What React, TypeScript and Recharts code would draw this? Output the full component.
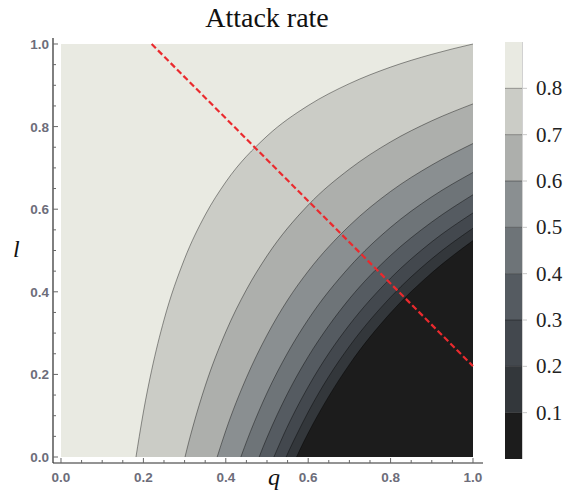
import React from 'react'
import { ComposedChart, Area, Line, XAxis, YAxis, BarChart, Bar, ReferenceArea } from 'recharts'

// contour levels, outermost (largest) first
const levels = [0.8, 0.7, 0.6, 0.5, 0.4, 0.3, 0.2, 0.1]

// fill under each contour = colour of the band just below that level
const bandColors = ['#cbccc6', '#adafac', '#8a8f91', '#6e7478', '#555b61', '#43484e', '#33373b', '#1c1c1c']
const topColor = '#e9eae2'

// contour lines as [q, l] pairs
const c80 = [[0.182, 0], [0.19, 0.05], [0.2, 0.109], [0.22, 0.21], [0.25, 0.332], [0.3, 0.48], [0.35, 0.586], [0.4, 0.666], [0.5, 0.777], [0.6, 0.851], [0.7, 0.904], [0.8, 0.944], [0.9, 0.975], [1, 1.0]]
const c70 = [[0.301, 0], [0.31, 0.036], [0.32, 0.073], [0.35, 0.172], [0.4, 0.303], [0.45, 0.405], [0.5, 0.487], [0.6, 0.61], [0.7, 0.697], [0.8, 0.763], [0.9, 0.814], [1, 0.855]]
const c60 = [[0.379, 0], [0.39, 0.034], [0.4, 0.064], [0.45, 0.192], [0.5, 0.295], [0.55, 0.38], [0.6, 0.45], [0.7, 0.56], [0.8, 0.643], [0.9, 0.707], [1, 0.759]]
const c50 = [[0.4365, 0], [0.445, 0.023], [0.46, 0.062], [0.5, 0.155], [0.55, 0.252], [0.6, 0.333], [0.7, 0.46], [0.8, 0.556], [0.9, 0.63], [1, 0.689]]
const c40 = [[0.481, 0], [0.49, 0.023], [0.5, 0.047], [0.55, 0.154], [0.6, 0.243], [0.65, 0.318], [0.7, 0.383], [0.8, 0.488], [0.9, 0.569], [1, 0.635]]
const c30 = [[0.5167, 0], [0.525, 0.019], [0.54, 0.053], [0.6, 0.17], [0.65, 0.251], [0.7, 0.32], [0.8, 0.433], [0.9, 0.521], [1, 0.591]]
const c20 = [[0.5465, 0], [0.555, 0.019], [0.57, 0.05], [0.6, 0.109], [0.65, 0.195], [0.7, 0.268], [0.8, 0.387], [0.9, 0.48], [1, 0.554]]
const c10 = [[0.5717, 0], [0.58, 0.018], [0.6, 0.058], [0.65, 0.147], [0.7, 0.224], [0.8, 0.349], [0.9, 0.446], [1, 0.524]]

const contours = [c80, c70, c60, c50, c40, c30, c20, c10]

// dashed reference line
const redLine = [{ q: 0.22, l: 1 }, { q: 1, l: 0.22 }]

// plot square
const square = [{ q: 0, l: 1 }, { q: 1, l: 1 }]

const qTicks = [0, 0.05, 0.1, 0.15, 0.2, 0.25, 0.3, 0.35, 0.4, 0.45, 0.5, 0.55, 0.6, 0.65, 0.7, 0.75, 0.8, 0.85, 0.9, 0.95, 1]
const lTicks = [0, 0.05, 0.1, 0.15, 0.2, 0.25, 0.3, 0.35, 0.4, 0.45, 0.5, 0.55, 0.6, 0.65, 0.7, 0.75, 0.8, 0.85, 0.9, 0.95, 1]

// colour bar
const barEdges = [0, 0.1, 0.2, 0.3, 0.4, 0.5, 0.6, 0.7, 0.8, 0.9]
const barColors = ['#1c1c1c', '#33373b', '#43484e', '#555b61', '#6e7478', '#8a8f91', '#adafac', '#cbccc6', '#e9eae2']
const barTicks = [0.1, 0.2, 0.3, 0.4, 0.5, 0.6, 0.7, 0.8]

const toPoints = (pts: number[][]) => pts.map(([q, l]) => ({ q, l }))

const barRow: Record<string, number | string> = { name: 'scale' }
barEdges.slice(1).forEach((e, i) => {
  barRow['b' + i] = e - barEdges[i]
})

const serif = '"Liberation Serif", "Times New Roman", serif'
const tickFont = {
  fontFamily: '"Liberation Sans", Arial, sans-serif',
  fontWeight: 700,
  fontSize: 13.5,
  fill: '#6d6d7a',
}

const isMajor = (v: number) => Math.abs(v * 5 - Math.round(v * 5)) < 1e-6

type TickProps = { x?: number; y?: number; payload?: { value: number } }

function QTick({ x = 0, y = 0, payload }: TickProps) {
  const v = payload?.value ?? 0
  const major = isMajor(v)
  return (
    <g>
      <line x1={x} x2={x} y1={y} y2={y - (major ? 5 : 3)} stroke="#666" />
      {major && (
        <text x={x} y={y + 19} textAnchor="middle" {...tickFont}>
          {v.toFixed(1)}
        </text>
      )}
    </g>
  )
}

function LTick({ x = 0, y = 0, payload }: TickProps) {
  const v = payload?.value ?? 0
  const major = isMajor(v)
  return (
    <g>
      <line x1={x} x2={x + (major ? 5 : 3)} y1={y} y2={y} stroke="#666" />
      {major && (
        <text x={x - 4} y={y + 5} textAnchor="end" {...tickFont}>
          {v.toFixed(1)}
        </text>
      )}
    </g>
  )
}

function ScaleTick({ x = 0, y = 0, payload }: TickProps) {
  const v = payload?.value ?? 0
  return (
    <g>
      <line x1={x - 17} x2={x} y1={y} y2={y} stroke="#000" strokeOpacity={0.35} />
      <line x1={x} x2={x + 5} y1={y} y2={y} stroke="#c8c8c8" />
      <text x={x + 14} y={y + 7} fontFamily={serif} fontSize={21} fill="#222">
        {v.toFixed(1)}
      </text>
    </g>
  )
}

export default function App() {
  return (
    <div style={{ position: 'absolute', left: 0, top: 0, width: 570, height: 491, background: '#fff' }}>
      <div
        style={{
          position: 'absolute', left: 0, top: 4, width: 534, textAlign: 'center',
          fontFamily: serif, fontSize: 28, lineHeight: '28px', color: '#111',
        }}
      >
        Attack rate
      </div>
      <div style={{ position: 'absolute', left: 13, top: 237, fontFamily: serif, fontStyle: 'italic', fontSize: 24, lineHeight: '24px', color: '#111' }}>
        l
      </div>
      <div style={{ position: 'absolute', left: 268, top: 465, fontFamily: serif, fontStyle: 'italic', fontSize: 24, lineHeight: '24px', color: '#111' }}>
        q
      </div>

      <div style={{ position: 'absolute', left: 0, top: 0 }}>
        <ComposedChart width={570} height={491} margin={{ top: 38, right: 87, bottom: 27, left: 52 }}>
          <XAxis
            type="number"
            dataKey="q"
            domain={[-0.0194, 1.0243]}
            allowDataOverflow
            ticks={qTicks}
            interval={0}
            height={1}
            tickSize={0}
            tickMargin={0}
            tickLine={false}
            axisLine={{ stroke: '#2b2b2b', strokeWidth: 1.2 }}
            tick={<QTick />}
          />
          <YAxis
            type="number"
            dataKey="l"
            domain={[-0.0145, 1.0145]}
            allowDataOverflow
            ticks={lTicks}
            interval={0}
            width={1}
            tickSize={0}
            tickMargin={0}
            tickLine={false}
            axisLine={{ stroke: '#2b2b2b', strokeWidth: 1.2 }}
            tick={<LTick />}
          />
          <Area
            data={square}
            dataKey="l"
            type="linear"
            baseValue={0}
            fill={topColor}
            fillOpacity={1}
            stroke="none"
            dot={false}
            activeDot={false}
            isAnimationActive={false}
          />
          {contours.map((pts, i) => (
            <Area
              key={levels[i]}
              data={toPoints(pts)}
              dataKey="l"
              type="monotone"
              baseValue={0}
              fill={bandColors[i]}
              fillOpacity={1}
              stroke="#000"
              strokeOpacity={0.4}
              strokeWidth={1}
              dot={false}
              activeDot={false}
              isAnimationActive={false}
            />
          ))}
          <Line
            data={redLine}
            dataKey="l"
            type="linear"
            stroke="#ea2a2e"
            strokeWidth={2.2}
            strokeDasharray="6 3"
            dot={false}
            activeDot={false}
            isAnimationActive={false}
          />
        </ComposedChart>
      </div>

      <div style={{ position: 'absolute', left: 505, top: 42 }}>
        <BarChart width={65} height={417} data={[barRow]} margin={{ top: 0, right: 47, bottom: 0, left: 0 }} barCategoryGap={0}>
          <XAxis dataKey="name" hide />
          <YAxis
            orientation="right"
            type="number"
            domain={[0, 0.9]}
            allowDataOverflow
            ticks={barTicks}
            interval={0}
            width={1}
            tickSize={0}
            tickMargin={0}
            tickLine={false}
            axisLine={false}
            tick={<ScaleTick />}
          />
          {barColors.map((c, i) => (
            <Bar key={c} dataKey={'b' + i} stackId="s" fill={c} isAnimationActive={false} />
          ))}
          <ReferenceArea y1={0} y2={0.9} fill="none" stroke="#a3a3a3" ifOverflow="visible" />
        </BarChart>
      </div>
    </div>
  )
}
